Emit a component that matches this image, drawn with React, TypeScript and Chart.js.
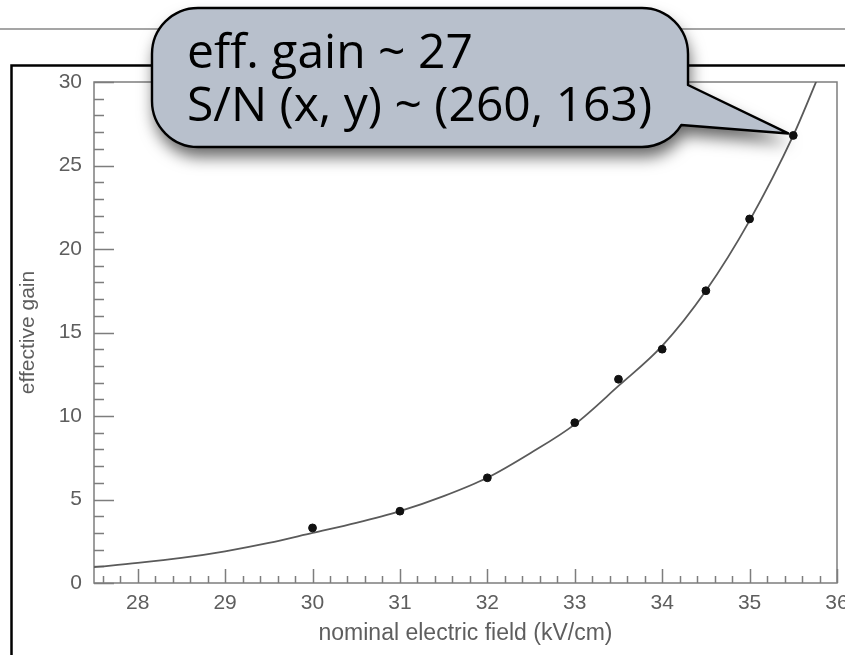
import React, { useEffect, useRef } from "react";
import { Chart, registerables } from "chart.js";

Chart.register(...registerables);

// ---- data ----
const FIELD_KV_CM = [30, 31, 32, 33, 33.5, 34, 34.5, 35, 35.5];
const GAIN = [3.3, 4.3, 6.3, 9.6, 12.2, 14.0, 17.5, 21.8, 26.8];

const FIT_FIELD = [27.5, 28, 28.5, 29, 29.5, 30, 30.5, 31, 31.5, 32, 32.5, 33, 33.5, 34, 34.5, 35, 35.5, 35.8];
const FIT_GAIN = [0.95, 1.2, 1.5, 1.9, 2.4, 3.0, 3.6, 4.3, 5.2, 6.3, 7.8, 9.5, 11.8, 14.2, 17.5, 21.7, 26.8, 30.5];

const X_TICKS = [28, 29, 30, 31, 32, 33, 34, 35, 36];
const Y_TICKS = [0, 5, 10, 15, 20, 25, 30];
const X_MINOR_STEP = 0.2;
const Y_MINOR_STEP = 1;

const X_TITLE = "nominal electric field (kV/cm)";
const Y_TITLE = "effective gain";
const CALLOUT_LINES = ["eff. gain ~ 27", "S/N (x, y) ~ (260, 163)"];
const CALLOUT_FIELD = 35.5;
const CALLOUT_GAIN = 26.8;

const AXIS_FONT = '"Liberation Sans", Arial, Helvetica, sans-serif';
const AXIS_COLOR = "#5e5e5e";
const FRAME_COLOR = "#7d7d7d";

function drawMinorTicks(ctx: CanvasRenderingContext2D, chart: any) {
  const { left, right, top, bottom } = chart.chartArea;
  const xs = chart.scales.x;
  const ys = chart.scales.y;
  ctx.save();
  ctx.strokeStyle = FRAME_COLOR;
  ctx.lineWidth = 1.5;
  // plot frame
  ctx.strokeRect(left, top, right - left, bottom - top);
  ctx.beginPath();
  const i0 = Math.ceil(xs.min / X_MINOR_STEP - 1e-6);
  const i1 = Math.floor(xs.max / X_MINOR_STEP + 1e-6);
  for (let i = i0; i <= i1; i++) {
    const v = i * X_MINOR_STEP;
    const major = Math.abs(v - Math.round(v)) < 1e-6;
    const px = Math.round(xs.getPixelForValue(v)) + 0.5;
    ctx.moveTo(px, bottom);
    ctx.lineTo(px, bottom - (major ? 14 : 7));
  }
  const j0 = Math.ceil(ys.min / Y_MINOR_STEP - 1e-6);
  const j1 = Math.floor(ys.max / Y_MINOR_STEP + 1e-6);
  for (let j = j0; j <= j1; j++) {
    const v = j * Y_MINOR_STEP;
    const major = Math.abs(v / 5 - Math.round(v / 5)) < 1e-6;
    const py = Math.round(ys.getPixelForValue(v)) + 0.5;
    ctx.moveTo(left, py);
    ctx.lineTo(left + (major ? 20 : 10), py);
  }
  ctx.stroke();
  ctx.restore();
}

function drawCallout(ctx: CanvasRenderingContext2D, chart: any) {
  const xs = chart.scales.x;
  const ys = chart.scales.y;
  const tipX = xs.getPixelForValue(CALLOUT_FIELD) - 5;
  const tipY = ys.getPixelForValue(CALLOUT_GAIN) - 2;
  const x0 = 152, y0 = 8, x1 = 688, y1 = 147, r = 46;
  const tailTopY = 85;
  const cx = x1 - r, cy = y1 - r;
  const ang = 0.55;

  ctx.save();
  const path = () => {
    ctx.beginPath();
    ctx.moveTo(x0 + r, y0);
    ctx.lineTo(x1 - r, y0);
    ctx.arcTo(x1, y0, x1, y0 + r, r);
    ctx.lineTo(x1, tailTopY);
    ctx.lineTo(tipX, tipY);
    ctx.lineTo(cx + r * Math.cos(ang), cy + r * Math.sin(ang));
    ctx.arc(cx, cy, r, ang, Math.PI / 2);
    ctx.lineTo(x0 + r, y1);
    ctx.arcTo(x0, y1, x0, y1 - r, r);
    ctx.lineTo(x0, y0 + r);
    ctx.arcTo(x0, y0, x0 + r, y0, r);
    ctx.closePath();
  };
  path();
  ctx.shadowColor = "rgba(0,0,0,0.6)";
  ctx.shadowBlur = 16;
  ctx.shadowOffsetX = 2;
  ctx.shadowOffsetY = 10;
  ctx.fillStyle = "#b8c0cc";
  ctx.fill();
  ctx.shadowColor = "transparent";
  ctx.lineWidth = 2.4;
  ctx.strokeStyle = "#000";
  ctx.lineJoin = "round";
  ctx.stroke();

  ctx.fillStyle = "#000";
  ctx.font = '48px "Open Sans", "Noto Sans", sans-serif';
  ctx.textBaseline = "alphabetic";
  ctx.textAlign = "left";
  ctx.fillText(CALLOUT_LINES[0], 187, 68);
  ctx.fillText(CALLOUT_LINES[1], 187, 121);
  ctx.restore();
}

const pagePlugin = {
  id: "pageDecor",
  beforeDraw(chart: any) {
    const ctx = chart.ctx as CanvasRenderingContext2D;
    ctx.save();
    ctx.fillStyle = "#fff";
    ctx.fillRect(0, 0, chart.width, chart.height);
    ctx.strokeStyle = "#a5a5a5";
    ctx.lineWidth = 2;
    ctx.beginPath();
    ctx.moveTo(0, 29);
    ctx.lineTo(chart.width, 29);
    ctx.stroke();
    ctx.strokeStyle = "#000";
    ctx.lineWidth = 2.5;
    ctx.beginPath();
    ctx.moveTo(11.5, chart.height + 4);
    ctx.lineTo(11.5, 65.5);
    ctx.lineTo(chart.width + 4, 65.5);
    ctx.stroke();
    ctx.restore();
  },
  beforeDatasetsDraw(chart: any) {
    drawMinorTicks(chart.ctx, chart);
  },
  afterDraw(chart: any) {
    drawCallout(chart.ctx, chart);
  },
};

export default function App() {
  const ref = useRef<HTMLCanvasElement | null>(null);

  useEffect(() => {
    if (!ref.current) return;
    const points = FIELD_KV_CM.map((x, i) => ({ x, y: GAIN[i] }));
    const fit = FIT_FIELD.map((x, i) => ({ x, y: FIT_GAIN[i] }));
    const chart = new Chart(ref.current, {
      type: "scatter",
      data: {
        datasets: [
          {
            type: "line",
            data: fit,
            borderColor: "#5a5a5a",
            borderWidth: 1.8,
            pointRadius: 0,
            cubicInterpolationMode: "monotone",
            order: 2,
          } as any,
          {
            type: "scatter",
            data: points,
            backgroundColor: "#111",
            borderColor: "#111",
            pointRadius: 3.9,
            order: 1,
          } as any,
        ],
      },
      options: {
        responsive: false,
        animation: false,
        devicePixelRatio: 1,
        layout: { padding: { left: 12, top: 82, right: 8, bottom: 0 } },
        plugins: { legend: { display: false }, tooltip: { enabled: false } },
        scales: {
          x: {
            type: "linear",
            min: 27.5,
            max: 36,
            afterBuildTicks: (s: any) => {
              s.ticks = X_TICKS.map((v) => ({ value: v }));
            },
            afterFit: (s: any) => {
              s.height = 72;
              s.paddingLeft = 0;
              s.paddingRight = 0;
            },
            grid: { display: false, drawTicks: false },
            border: { display: false },
            ticks: {
              padding: 8,
              color: AXIS_COLOR,
              font: { family: AXIS_FONT, size: 21 },
              maxRotation: 0,
              autoSkip: false,
            },
            title: {
              display: true,
              text: X_TITLE,
              color: AXIS_COLOR,
              font: { family: AXIS_FONT, size: 23 },
              padding: { top: 0, bottom: 8 },
            },
          },
          y: {
            type: "linear",
            min: 0,
            max: 30,
            afterBuildTicks: (s: any) => {
              s.ticks = Y_TICKS.map((v) => ({ value: v }));
            },
            afterFit: (s: any) => {
              s.width = 82;
              s.paddingTop = 0;
              s.paddingBottom = 0;
            },
            grid: { display: false, drawTicks: false },
            border: { display: false },
            ticks: {
              padding: 12,
              color: AXIS_COLOR,
              font: { family: AXIS_FONT, size: 21 },
              autoSkip: false,
            },
            title: {
              display: true,
              text: Y_TITLE,
              color: AXIS_COLOR,
              font: { family: AXIS_FONT, size: 21 },
              padding: { top: 4, bottom: 0 },
            },
          },
        },
      },
      plugins: [pagePlugin],
    } as any);
    return () => chart.destroy();
  }, []);

  return (
    <div
      style={{
        position: "fixed",
        left: 0,
        top: 0,
        width: 845,
        height: 655,
        background: "#fff",
        overflow: "hidden",
      }}
    >
      <canvas ref={ref} width={845} height={655} style={{ display: "block", width: 845, height: 655 }} />
    </div>
  );
}
